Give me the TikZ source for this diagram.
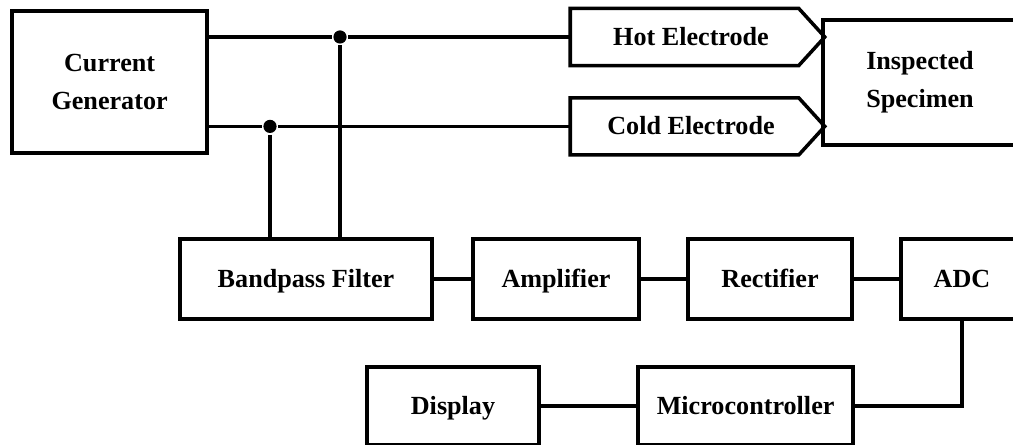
\documentclass[tikz,border=0pt]{standalone}
\usepackage{fontspec}
\setmainfont{Liberation Serif}
\begin{document}
\begin{tikzpicture}[line width=2.5pt, line join=miter, every node/.style={font=\fontsize{18.6}{27}\selectfont\bfseries, align=center},
    block/.style={rectangle, draw, minimum height=2cm, inner sep=0pt, text height=16.7pt, text depth=4.5pt},
    twoline/.style={rectangle, draw, inner sep=0pt},
    electrode/.style={rectangle, minimum width=5.95cm, minimum height=1.34cm, inner sep=0pt, text height=16.7pt, text depth=4.5pt},
    junction/.style={circle, fill, inner sep=0pt, minimum size=0.33cm}]
    \clip (0,0) rectangle (25.325,-11.125);

    \node[twoline, minimum width=4.875cm, minimum height=3.55cm] (gen) at (2.74, -2.05) {Current\\Generator};
    \node[electrode] (hot) at (17.275, -0.925) {Hot Electrode};
    \node[electrode] (cold) at (17.275, -3.16) {Cold Electrode};
    \node[twoline, minimum width=4.85cm, minimum height=3.125cm] (spec) at (23.0, -2.06) {Inspected\\Specimen};

    \node[block, minimum width=6.3cm] (bpf) at (7.65, -6.975) {Bandpass Filter};
    \node[block, minimum width=4.15cm] (amp) at (13.9, -6.975) {Amplifier};
    \node[block, minimum width=4.1cm] (rect) at (19.25, -6.975) {Rectifier};
    \node[block, minimum width=3.05cm] (adc) at (24.05, -6.975) {ADC};

    \node[block, minimum width=4.3cm, minimum height=1.95cm] (disp) at (11.325, -10.15) {Display};
    \node[block, minimum width=5.375cm, minimum height=1.95cm] (mcu) at (18.64, -10.15) {Microcontroller};

    \node[junction] (j1) at (8.5, -0.925) {};
    \node[junction] (j2) at (6.75, -3.16) {};

    % electrode outlines
    \foreach \e in {hot, cold}
      \draw (\e.north west) -- ([xshift=-0.325cm]\e.north east) -- ([xshift=0.325cm]\e.east)
        -- ([xshift=-0.325cm]\e.south east) -- (\e.south west) -- cycle;

    \draw (gen.east |- hot.west) -- (j1) -- (hot.west);
    \draw (gen.east |- cold.west) -- (j2) -- (cold.west);
    \draw (j1) -- (j1 |- bpf.north);
    \draw (j2) -- (j2 |- bpf.north);

    \draw (bpf) -- (amp);
    \draw (amp) -- (rect);
    \draw (rect) -- (adc);
    \draw (adc.south) |- (mcu.east);
    \draw (mcu) -- (disp);
\end{tikzpicture}
\end{document}
